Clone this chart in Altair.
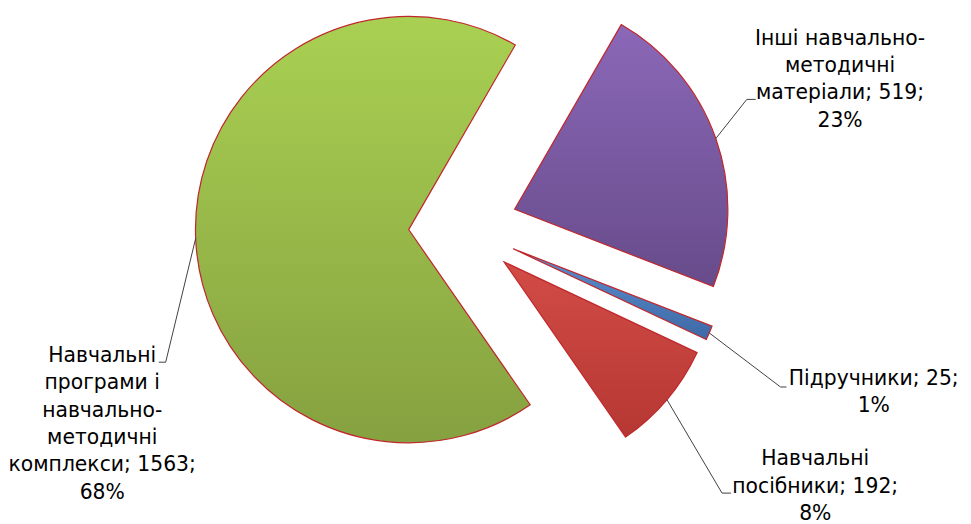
import math
import altair as alt
import pandas as pd

# ---- data ----
categories = [
    "Інші навчально-методичні матеріали",
    "Підручники",
    "Навчальні посібники",
    "Навчальні програми і навчально-методичні комплекси",
]
values = [519, 25, 192, 1563]
# wrapped category names as they appear in the labels
name_lines = [
    ["Інші навчально-", "методичні", "матеріали"],
    ["Підручники"],
    ["Навчальні", "посібники"],
    ["Навчальні", "програми і", "навчально-", "методичні", "комплекси"],
]

# ---- styling / layout ----
colors_top = ["#8b68b8", "#5b8fd0", "#d24c46", "#a9d052"]
colors_bot = ["#674b8a", "#3e6aa6", "#b63733", "#86a140"]
stroke_col = "#c0262b"
ROT = math.radians(30)          # angle of first slice
R = 215                         # pie radius
explode = [55, 55, 54, 55]      # explosion distance per slice (px)
W, H = 918, 438                 # plot area; pie centre = (W/2, H/2)
CX, CY = W / 2, H / 2
FONT = "DejaVu Sans"
FS = 20.5
LH = 27.5
# label anchor (centre x, first line centre y) in view coordinates
label_pos = [(839, 29), (873, 372), (814, 453), (95, 349)]
# leader elbow and end points
leader_elbow = [(745, 90), (779, 380), (720, 487), (159, 355)]
leader_end = [(754, 90), (785, 380), (729, 487), (152, 355)]

total = sum(values)
df = pd.DataFrame({"cat": categories, "value": values, "order": list(range(len(values)))})

base = (
    alt.Chart(df)
    .transform_joinaggregate(total="sum(value)")
    .transform_window(cum="sum(value)", sort=[alt.SortField("order")], frame=[None, 0])
    .transform_calculate(
        t0=f"{ROT} + 2*PI*(datum.cum - datum.value)/datum.total",
        t1=f"{ROT} + 2*PI*datum.cum/datum.total",
    )
)

layers = []
mids = []
cum = 0
for i, cat in enumerate(categories):
    a0 = ROT + 2 * math.pi * cum / total
    cum += values[i]
    a1 = ROT + 2 * math.pi * cum / total
    mid = (a0 + a1) / 2
    mids.append(mid)
    dx = explode[i] * math.sin(mid)
    dy = -explode[i] * math.cos(mid)
    grad = alt.Gradient(
        gradient="linear",
        stops=[
            alt.GradientStop(color=colors_top[i], offset=0),
            alt.GradientStop(color=colors_bot[i], offset=1),
        ],
        x1=0, x2=0, y1=0, y2=1,
    )
    layers.append(
        base.transform_filter(alt.datum.cat == cat)
        .mark_arc(radius=R, xOffset=dx, yOffset=dy, fill=grad,
                  stroke=stroke_col, strokeWidth=1.2, strokeJoin="miter")
        .encode(theta=alt.Theta("t0:Q", scale=None), theta2="t1:Q")
    )

# leader lines
lead_rows = []
for i, cat in enumerate(categories):
    mid = mids[i]
    ox = CX + explode[i] * math.sin(mid)
    oy = CY - explode[i] * math.cos(mid)
    sx = ox + R * math.sin(mid)
    sy = oy - R * math.cos(mid)
    pts = [(sx, sy), leader_elbow[i], leader_end[i]]
    for k, (px, py) in enumerate(pts):
        lead_rows.append({"cat": cat, "k": k, "px": px, "py": py})
lead_df = pd.DataFrame(lead_rows)
leaders = (
    alt.Chart(lead_df)
    .mark_line(color="#404040", strokeWidth=1)
    .encode(
        x=alt.X("px:Q", scale=None, axis=None),
        y=alt.Y("py:Q", scale=None, axis=None),
        order="k:O",
        detail="cat:N",
    )
)

# labels
txt_rows = []
for i, cat in enumerate(categories):
    pct = round(values[i] / total * 100)
    lines = list(name_lines[i])
    lines[-1] = f"{lines[-1]}; {values[i]};"
    lines.append(f"{pct}%")
    lx, ly = label_pos[i]
    for j, ln in enumerate(lines):
        txt_rows.append({"t": ln, "tx": lx, "ty": ly + j * LH})
txt_df = pd.DataFrame(txt_rows)
labels = (
    alt.Chart(txt_df)
    .mark_text(font=FONT, fontSize=FS, color="#000000", align="center", baseline="middle")
    .encode(
        x=alt.X("tx:Q", scale=None, axis=None),
        y=alt.Y("ty:Q", scale=None, axis=None),
        text="t:N",
    )
)

chart = (
    alt.layer(*layers, leaders, labels)
    .properties(
        width=W,
        height=H,
        autosize=alt.AutoSizeParams(type="none"),
        padding={"left": 0, "top": 0, "right": 45, "bottom": 78},
        background="white",
    )
    .configure_view(stroke=None)
)

chart.save("out.html", embed_options={"renderer": "svg", "actions": False})
